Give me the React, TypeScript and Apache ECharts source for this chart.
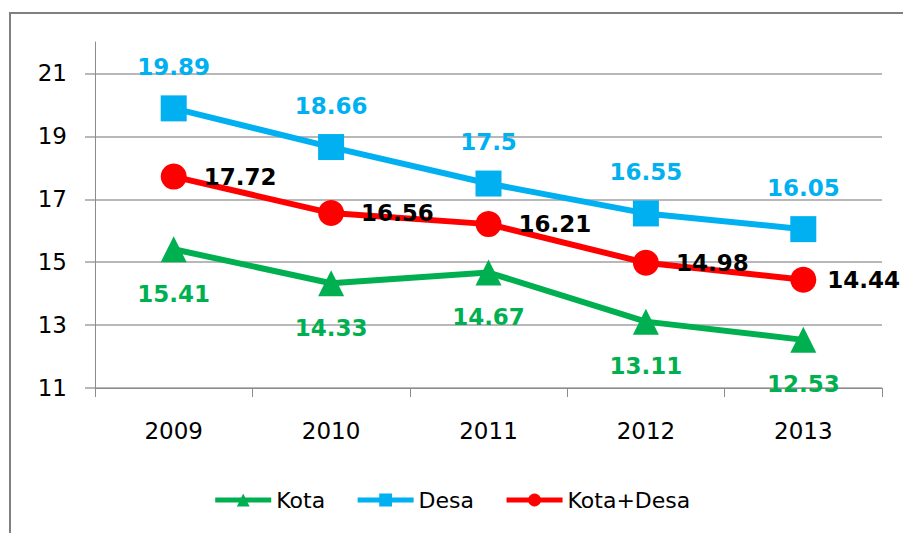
import React, { useEffect, useRef } from "react";
import * as echarts from "echarts";

const years = ["2009", "2010", "2011", "2012", "2013"];
const kota = [15.41, 14.33, 14.67, 13.11, 12.53];
const desa = [19.89, 18.66, 17.5, 16.55, 16.05];
const kotaDesa = [17.72, 16.56, 16.21, 14.98, 14.44];
const yTicks = [11, 13, 15, 17, 19, 21];

const GREEN = "#00B050";
const BLUE = "#00B0F0";
const RED = "#FF0000";
const FONT = "DejaVu Sans";

export default function App() {
  const ref = useRef<HTMLDivElement>(null);
  useEffect(() => {
    const chart = echarts.init(ref.current!, undefined, { renderer: "svg" });
    const labelStyle = (color: string, position: string, distance: number) => ({
      show: true,
      position,
      distance,
      color,
      fontFamily: FONT,
      fontWeight: "bold",
      fontSize: 23,
    });
    const grid = "#a0a0a0";
    const clear = "rgba(0,0,0,0)";
    chart.setOption({
      animation: false,
      backgroundColor: "#ffffff",
      graphic: [
        {
          type: "rect",
          shape: { x: 10, y: 13, width: 1000, height: 1000 },
          style: { fill: "none", stroke: "#808080", lineWidth: 2 },
          silent: true,
        },
      ],
      grid: { left: 95, right: 21, top: 42, bottom: 145 },
      xAxis: {
        type: "category",
        data: years,
        boundaryGap: true,
        axisLine: { lineStyle: { color: "#8c8c8c", width: 1 } },
        axisTick: { show: true, length: 9, lineStyle: { color: "#8c8c8c" } },
        axisLabel: { color: "#000", fontFamily: FONT, fontSize: 23, margin: 31 },
      },
      yAxis: {
        type: "value",
        min: 11,
        max: 22,
        interval: 2,
        axisLine: { show: true, lineStyle: { color: "#8c8c8c", width: 1 } },
        axisTick: {
          show: true,
          length: 10,
          customValues: yTicks,
          lineStyle: { color: grid, width: 1.5 },
        },
        splitLine: {
          show: true,
          lineStyle: {
            color: [grid, grid, grid, grid, grid, grid, clear],
            width: 1.5,
          },
        },
        axisLabel: {
          color: "#000",
          fontFamily: FONT,
          fontSize: 23,
          margin: 28,
          customValues: yTicks,
          formatter: (v: number) => (v > 21 ? "" : String(v)),
        },
      },
      legend: {
        top: 484,
        left: "center",
        itemWidth: 56,
        itemHeight: 16,
        itemGap: 30,
        lineStyle: { width: 5 },
        textStyle: { color: "#000", fontFamily: FONT, fontSize: 22 },
        data: ["Kota", "Desa", "Kota+Desa"],
      },
      series: [
        {
          name: "Kota",
          type: "line",
          data: kota,
          symbol: "triangle",
          symbolSize: 26,
          lineStyle: { color: GREEN, width: 6 },
          itemStyle: { color: GREEN },
          label: labelStyle(GREEN, "bottom", 20),
        },
        {
          name: "Desa",
          type: "line",
          data: desa,
          symbol: "rect",
          symbolSize: 26,
          lineStyle: { color: BLUE, width: 6 },
          itemStyle: { color: BLUE },
          label: labelStyle(BLUE, "top", 17),
        },
        {
          name: "Kota+Desa",
          type: "line",
          data: kotaDesa.map((v, i) =>
            i === kotaDesa.length - 1 ? { value: v, label: { distance: 11 } } : v
          ),
          symbol: "circle",
          symbolSize: 26,
          lineStyle: { color: RED, width: 6 },
          itemStyle: { color: RED },
          label: labelStyle("#000", "right", 17),
        },
      ],
    });
    return () => chart.dispose();
  }, []);
  return (
    <div
      ref={ref}
      style={{ position: "fixed", left: 0, top: 0, width: 903, height: 533 }}
    />
  );
}
